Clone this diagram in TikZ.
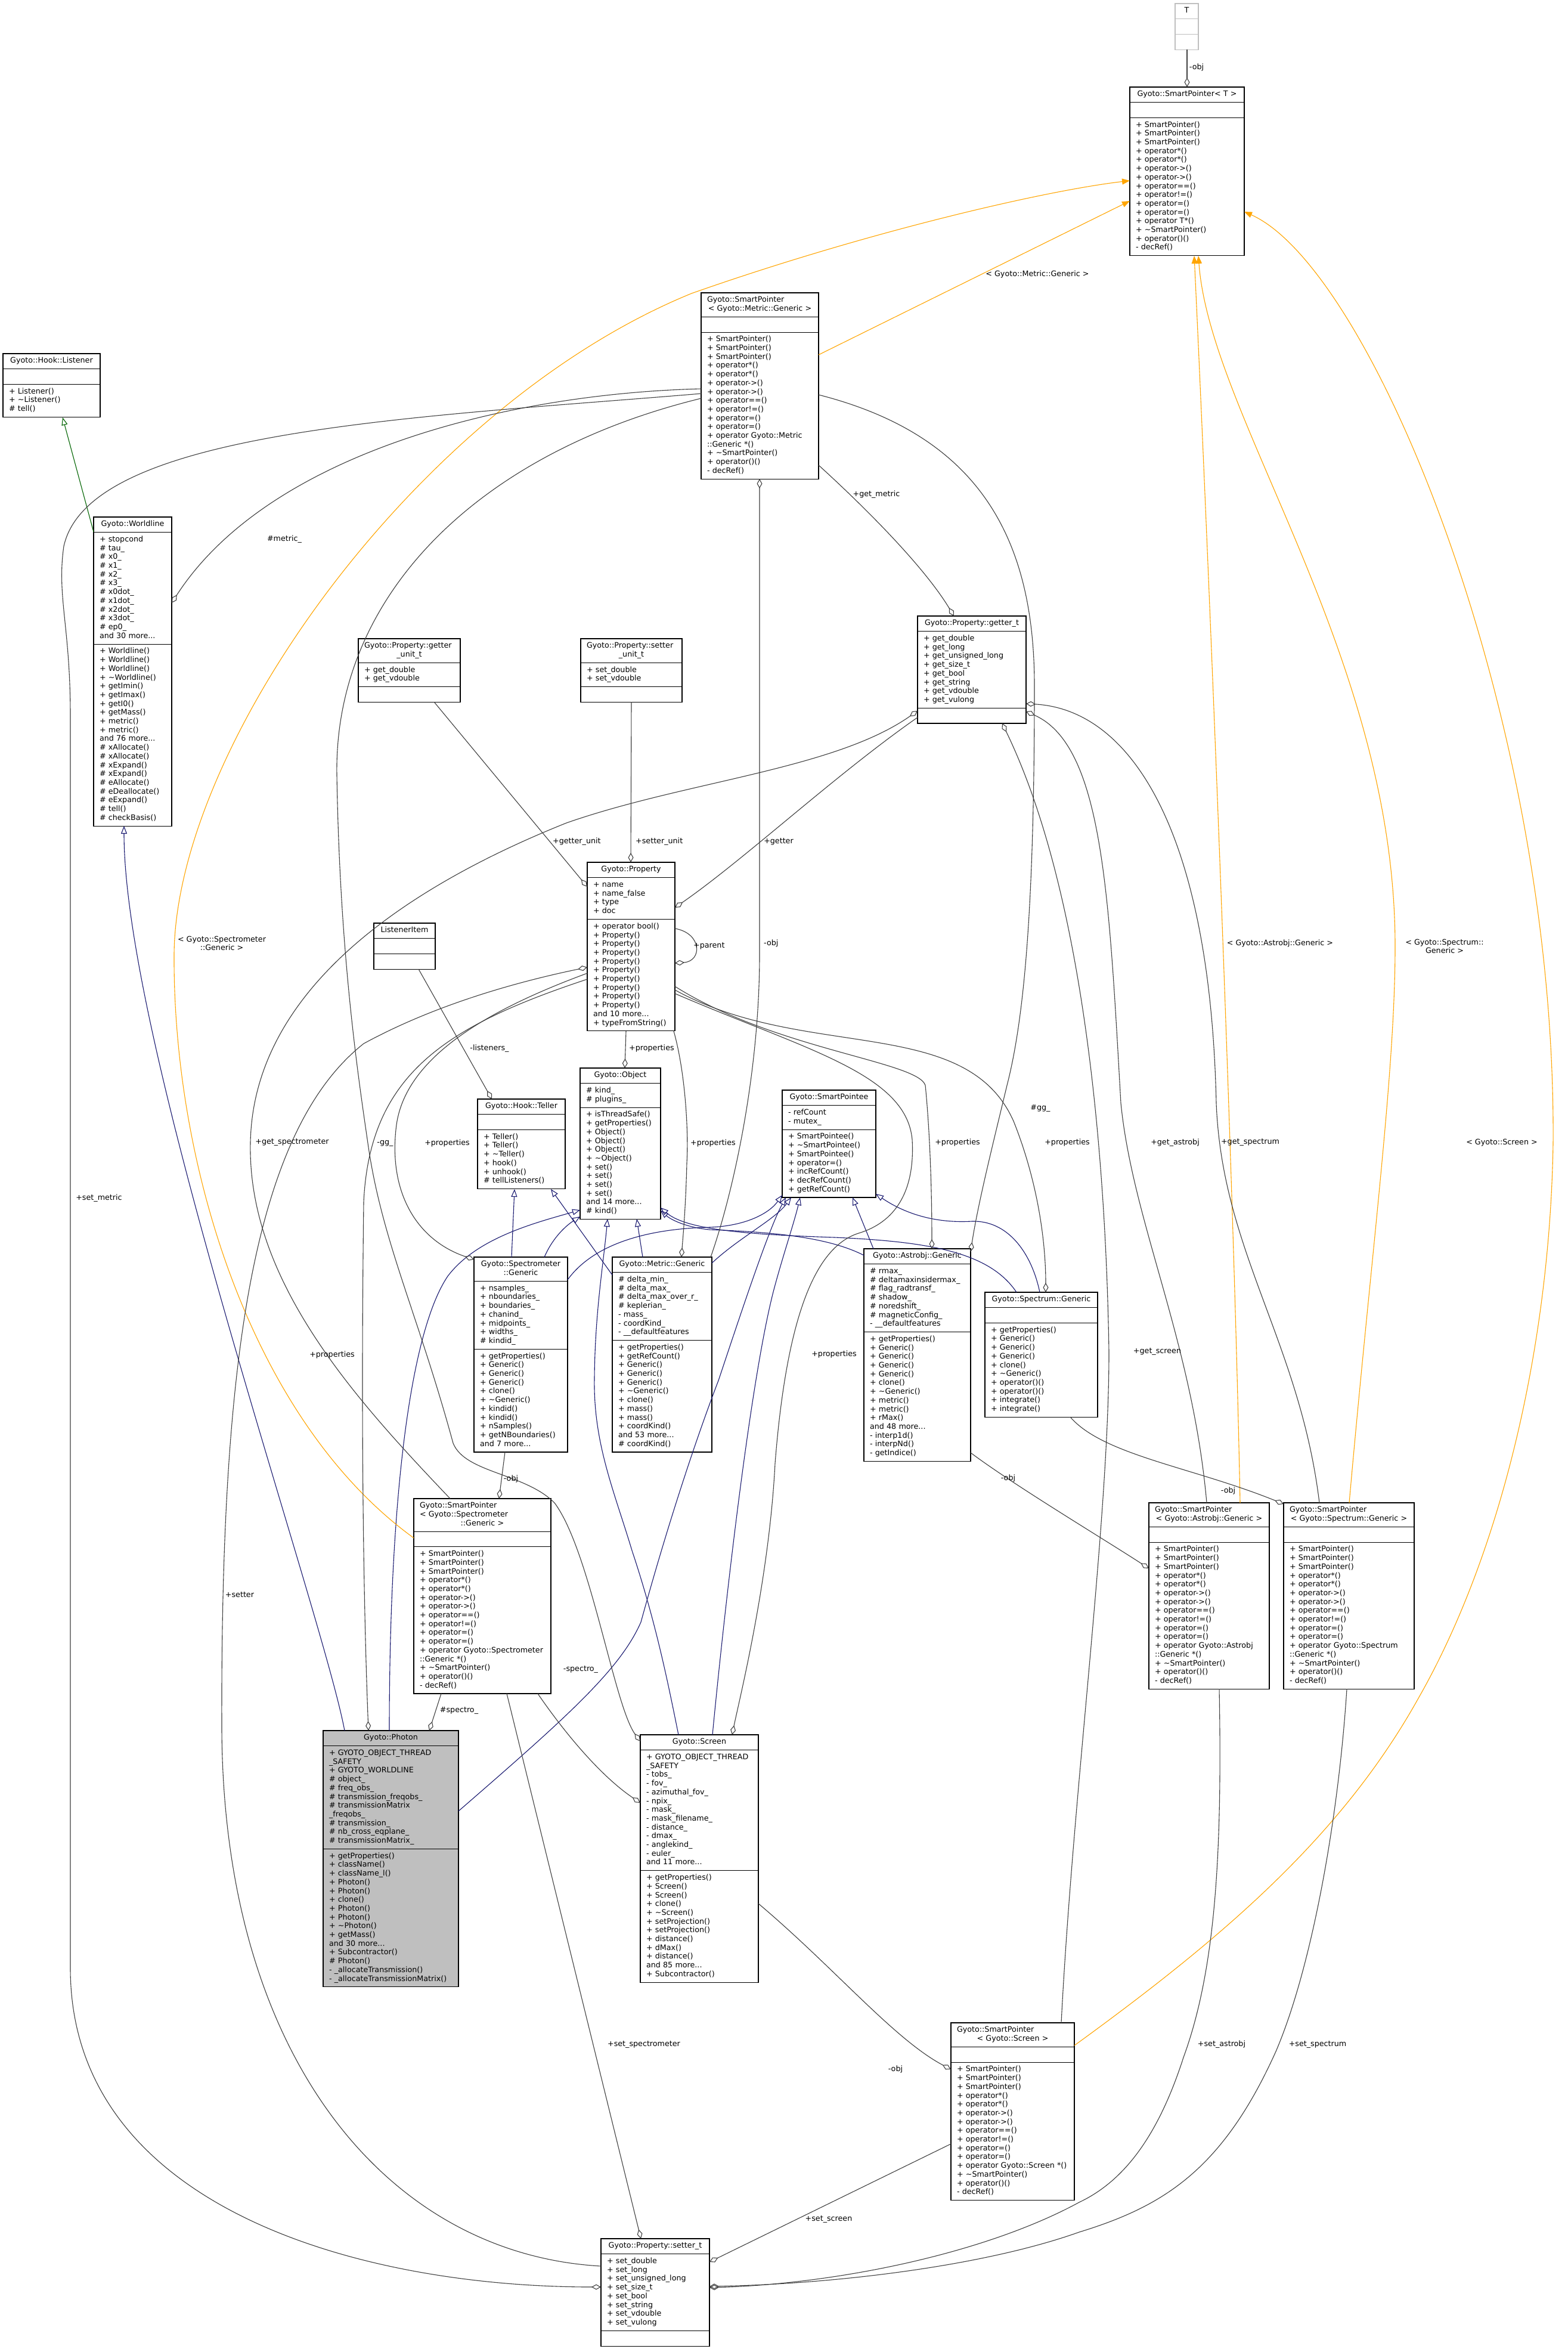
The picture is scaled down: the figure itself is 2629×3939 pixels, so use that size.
\documentclass[tikz,border=0pt]{standalone}
\usepackage{fontspec}
\setmainfont{DejaVu Sans}
\usetikzlibrary{arrows.meta,calc,fit}
\definecolor{navy}{HTML}{191970}
\definecolor{edgegrey}{HTML}{404040}
\definecolor{tmpl}{HTML}{FFA500}
\definecolor{inhgreen}{HTML}{006400}
\definecolor{phfill}{HTML}{BFBFBF}
\newcommand{\cfont}{\fontsize{12.7}{14.7}\selectfont}
\newcommand{\Ln}[1]{\makebox[\linewidth][l]{#1}}
\newcommand{\spA}{+~SmartPointer()\\+~SmartPointer()\\+~SmartPointer()\\+~operator*()\\+~operator*()\\+~operator->()\\+~operator->()\\+~operator==()\\+~operator!=()\\+~operator=()\\+~operator=()}
\newcommand{\spB}{+~\textasciitilde SmartPointer()\\+~operator()()\\-~decRef()}
\tikzset{
 sec/.style={draw=black,line width=1.1pt,fill=white,inner xsep=10pt,inner ysep=5.5pt,outer sep=0pt,font=\cfont,
   minimum height=25.7pt,execute at begin node=\strut,execute at end node=\strut},
 lbl/.style={font=\cfont,inner sep=1pt,align=center},
 inh/.style={draw=navy,line width=1.1pt,-{Triangle[open,length=13pt,width=10pt,line width=1.1pt]}},
 grn/.style={draw=inhgreen,line width=1.1pt,-{Triangle[open,length=13pt,width=10pt,line width=1.1pt]}},
 tpl/.style={draw=tmpl,line width=1.1pt,-{Triangle[length=13pt,width=10pt]}},
 use/.style={draw=edgegrey,line width=1.1pt,-{Diamond[open,length=16pt,width=9pt,line width=1.1pt]}},
}
\newcommand{\cbox}[8][]{%
 \pgfmathsetmacro{\cbw}{#5-20}%
 \node[sec,#1,text width=\cbw pt,align=center,anchor=north west] (#2-h) at (#3,#4) {\strut#6};
 \node[sec,#1,text width=\cbw pt,align=left,anchor=north west] (#2-a) at (#2-h.south west) {\strut#7};
 \node[sec,#1,text width=\cbw pt,align=left,anchor=north west] (#2-m) at (#2-a.south west) {\strut#8};
 \node[fit=(#2-h)(#2-a)(#2-m),inner sep=0pt,outer sep=0pt] (#2) {};
}
\begin{document}
\begin{tikzpicture}[x=1pt,y=-1pt]
\fill[white] (0,0) rectangle (2629,3939);
\useasboundingbox (0,0) rectangle (2629,3939);

% ---------- class boxes ----------
\cbox[draw=phfill]{t}{1971}{6}{39}{T}{}{}
\cbox{spt}{1895}{146}{192}{Gyoto::SmartPointer<~T~>}{}{\spA\\+~operator~T*()\\\spB}
\cbox{spm}{1176}{491}{197}{\Ln{Gyoto::SmartPointer}\\<~Gyoto::Metric::Generic~>}{}{\spA\\+~operator~Gyoto::Metric\\::Generic~*()\\\spB}
\cbox{lis}{5}{593}{163}{Gyoto::Hook::Listener}{}{+~Listener()\\+~\textasciitilde Listener()\\\#~tell()}
\cbox{wl}{157}{867}{131}{Gyoto::Worldline}{+~stopcond\\\#~tau\_\\\#~x0\_\\\#~x1\_\\\#~x2\_\\\#~x3\_\\\#~x0dot\_\\\#~x1dot\_\\\#~x2dot\_\\\#~x3dot\_\\\#~ep0\_\\and~30~more...}{+~Worldline()\\+~Worldline()\\+~Worldline()\\+~\textasciitilde Worldline()\\+~getImin()\\+~getImax()\\+~getI0()\\+~getMass()\\+~metric()\\+~metric()\\and~76~more...\\\#~xAllocate()\\\#~xAllocate()\\\#~xExpand()\\\#~xExpand()\\\#~eAllocate()\\\#~eDeallocate()\\\#~eExpand()\\\#~tell()\\\#~checkBasis()}
\cbox{gu}{601}{1071}{171}{\Ln{Gyoto::Property::getter}\\\_unit\_t}{+~get\_double\\+~get\_vdouble}{}
\cbox{su}{974}{1071}{170}{\Ln{Gyoto::Property::setter}\\\_unit\_t}{+~set\_double\\+~set\_vdouble}{}
\cbox{gt}{1539}{1033}{182}{Gyoto::Property::getter\_t}{+~get\_double\\+~get\_long\\+~get\_unsigned\_long\\+~get\_size\_t\\+~get\_bool\\+~get\_string\\+~get\_vdouble\\+~get\_vulong}{}
\cbox{pr}{985}{1446}{147}{Gyoto::Property}{+~name\\+~name\_false\\+~type\\+~doc}{+~operator~bool()\\+~Property()\\+~Property()\\+~Property()\\+~Property()\\+~Property()\\+~Property()\\+~Property()\\+~Property()\\+~Property()\\and~10~more...\\+~typeFromString()}
\cbox{li}{627}{1548}{103}{ListenerItem}{}{}
\cbox{te}{801}{1843}{147}{Gyoto::Hook::Teller}{}{+~Teller()\\+~Teller()\\+~\textasciitilde Teller()\\+~hook()\\+~unhook()\\\#~tellListeners()}
\cbox{ob}{973}{1791}{135}{Gyoto::Object}{\#~kind\_\\\#~plugins\_}{+~isThreadSafe()\\+~getProperties()\\+~Object()\\+~Object()\\+~Object()\\+~\textasciitilde Object()\\+~set()\\+~set()\\+~set()\\+~set()\\and~14~more...\\\#~kind()}
\cbox{spe}{1312}{1828}{157}{Gyoto::SmartPointee}{-~refCount\\-~mutex\_}{+~SmartPointee()\\+~\textasciitilde SmartPointee()\\+~SmartPointee()\\+~operator=()\\+~incRefCount()\\+~decRefCount()\\+~getRefCount()}
\cbox{sg}{795}{2108}{157}{Gyoto::Spectrometer\\::Generic}{+~nsamples\_\\+~nboundaries\_\\+~boundaries\_\\+~chanind\_\\+~midpoints\_\\+~widths\_\\\#~kindid\_}{+~getProperties()\\+~Generic()\\+~Generic()\\+~Generic()\\+~clone()\\+~\textasciitilde Generic()\\+~kindid()\\+~kindid()\\+~nSamples()\\+~getNBoundaries()\\and~7~more...}
\cbox{mg}{1027}{2108}{167}{Gyoto::Metric::Generic}{\#~delta\_min\_\\\#~delta\_max\_\\\#~delta\_max\_over\_r\_\\\#~keplerian\_\\-~mass\_\\-~coordKind\_\\-~\_\_defaultfeatures}{+~getProperties()\\+~getRefCount()\\+~Generic()\\+~Generic()\\+~Generic()\\+~\textasciitilde Generic()\\+~clone()\\+~mass()\\+~mass()\\+~coordKind()\\and~53~more...\\\#~coordKind()}
\cbox{ag}{1449}{2094}{179}{Gyoto::Astrobj::Generic}{\#~rmax\_\\\#~deltamaxinsidermax\_\\\#~flag\_radtransf\_\\\#~shadow\_\\\#~noredshift\_\\\#~magneticConfig\_\\-~\_\_defaultfeatures}{+~getProperties()\\+~Generic()\\+~Generic()\\+~Generic()\\+~Generic()\\+~clone()\\+~\textasciitilde Generic()\\+~metric()\\+~metric()\\+~rMax()\\and~48~more...\\-~interp1d()\\-~interpNd()\\-~getIndice()}
\cbox{spg}{1652}{2167}{189}{Gyoto::Spectrum::Generic}{}{+~getProperties()\\+~Generic()\\+~Generic()\\+~Generic()\\+~clone()\\+~\textasciitilde Generic()\\+~operator()()\\+~operator()()\\+~integrate()\\+~integrate()}
\cbox{sps}{694}{2513}{230}{\Ln{Gyoto::SmartPointer}\\\Ln{<~Gyoto::Spectrometer}\\::Generic~>}{}{\spA\\+~operator~Gyoto::Spectrometer\\::Generic~*()\\\spB}
\cbox{spa}{1927}{2520}{202}{\Ln{Gyoto::SmartPointer}\\<~Gyoto::Astrobj::Generic~>}{}{\spA\\+~operator~Gyoto::Astrobj\\::Generic~*()\\\spB}
\cbox{spsp}{2153}{2520}{219}{\Ln{Gyoto::SmartPointer}\\<~Gyoto::Spectrum::Generic~>}{}{\spA\\+~operator~Gyoto::Spectrum\\::Generic~*()\\\spB}
\cbox[fill=phfill]{ph}{542}{2902}{227}{Gyoto::Photon}{+~GYOTO\_OBJECT\_THREAD\\\_SAFETY\\+~GYOTO\_WORLDLINE\\\#~object\_\\\#~freq\_obs\_\\\#~transmission\_freqobs\_\\\#~transmissionMatrix\\\_freqobs\_\\\#~transmission\_\\\#~nb\_cross\_eqplane\_\\\#~transmissionMatrix\_}{+~getProperties()\\+~className()\\+~className\_l()\\+~Photon()\\+~Photon()\\+~clone()\\+~Photon()\\+~Photon()\\+~\textasciitilde Photon()\\+~getMass()\\and~30~more...\\+~Subcontractor()\\\#~Photon()\\-~\_allocateTransmission()\\-~\_allocateTransmissionMatrix()}
\cbox{sc}{1074}{2909}{198}{Gyoto::Screen}{+~GYOTO\_OBJECT\_THREAD\\\_SAFETY\\-~tobs\_\\-~fov\_\\-~azimuthal\_fov\_\\-~npix\_\\-~mask\_\\-~mask\_filename\_\\-~distance\_\\-~dmax\_\\-~anglekind\_\\-~euler\_\\and~11~more...}{+~getProperties()\\+~Screen()\\+~Screen()\\+~clone()\\+~\textasciitilde Screen()\\+~setProjection()\\+~setProjection()\\+~distance()\\+~dMax()\\+~distance()\\and~85~more...\\+~Subcontractor()}
\cbox{spc}{1595}{3392}{207}{\Ln{Gyoto::SmartPointer}\\<~Gyoto::Screen~>}{}{\spA\\+~operator~Gyoto::Screen~*()\\\spB}
\cbox{st}{1008}{3754}{182}{Gyoto::Property::setter\_t}{+~set\_double\\+~set\_long\\+~set\_unsigned\_long\\+~set\_size\_t\\+~set\_bool\\+~set\_string\\+~set\_vdouble\\+~set\_vulong}{}

% ---------- inheritance ----------
\draw[inh] ($(ph.north west)+(36,0)$) .. controls (540,2700) and (208,1750) .. ($(wl.north west)+(51,518)$);
\draw[inh] ($(ph.north west)+(111,0)$) .. controls (653,2500) and (690,2230) .. (751,2140) .. controls (800,2075) and (900,2050) .. ($(ob.north west)+(0,238)$);
\draw[inh] ($(ph.north west)+(227,135)$) .. controls (950,2880) and (1040,2800) .. (1075,2720) .. controls (1130,2520) and (1180,2380) .. (1205,2315) .. controls (1250,2180) and (1290,2060) .. ($(spe.north west)+(6,180)$);
\draw[inh] ($(sg.north west)+(63,0)$) -- ($(te.north west)+(62,151)$);
\draw[inh] ($(sg.north west)+(118,0)$) .. controls (925,2080) and (945,2058) .. ($(ob.north west)+(0,249)$);
\draw[inh] ($(sg.north west)+(157,38)$) .. controls (1000,2080) and (1100,2060) .. (1190,2058) .. controls (1250,2056) and (1290,2035) .. ($(spe.north west)+(0,176)$);
\draw[inh] ($(mg.north west)+(51,0)$) -- ($(ob.north west)+(95,253)$);
\draw[inh] ($(mg.north west)+(167,10)$) .. controls (1240,2075) and (1300,2045) .. ($(spe.north west)+(15,180)$);
\draw[inh] ($(mg.north west)+(0,30)$) -- ($(te.north west)+(123,151)$);
\draw[inh] ($(ag.north west)+(0,11)$) .. controls (1390,2075) and (1300,2066) .. (1190,2062) .. controls (1150,2058) and (1125,2045) .. ($(ob.north west)+(135,239)$);
\draw[inh] ($(spg.north west)+(53,0)$) .. controls (1660,2100) and (1560,2082) .. (1400,2075) .. controls (1250,2070) and (1150,2062) .. ($(ob.north west)+(135,234)$);
\draw[inh] ($(ag.north west)+(16,0)$) -- ($(spe.north west)+(118,180)$);
\draw[inh] ($(spg.north west)+(92,0)$) .. controls (1730,2100) and (1690,2046) .. (1630,2048) .. controls (1560,2052) and (1510,2030) .. ($(spe.north west)+(157,174)$);
\draw[inh] ($(sc.north west)+(64,0)$) .. controls (1120,2820) and (1100,2720) .. (1060,2600) .. controls (1030,2500) and (995,2420) .. (997,2311) .. controls (998,2200) and (1012,2120) .. ($(ob.north west)+(46,253)$);
\draw[inh] ($(sc.north west)+(121,0)$) .. controls (1215,2700) and (1260,2300) .. (1300,2155) .. controls (1315,2100) and (1332,2050) .. ($(spe.north west)+(30,180)$);
\draw[grn] ($(wl.north west)+(0,25)$) -- ($(lis.north west)+(100,107)$);

% ---------- template instances ----------
\draw[tpl] ($(spm.north west)+(197,104)$) -- ($(spt.north west)+(0,191)$);
\draw[tpl] ($(sps.north west)+(0,66)$) .. controls (420,2380) and (290,1950) .. (292,1600) .. controls (295,1250) and (700,680) .. (1160,492) .. controls (1450,390) and (1750,320) .. ($(spt.north west)+(0,157)$);
\draw[tpl] ($(spa.north west)+(153,0)$) .. controls (2070,2000) and (2030,1000) .. ($(spt.north west)+(108,283)$);
\draw[tpl] ($(spsp.north west)+(110,0)$) .. controls (2300,2100) and (2340,1800) .. (2340,1587) .. controls (2340,1100) and (2030,700) .. ($(spt.north west)+(115,283)$);
\draw[tpl] ($(spc.north west)+(207,38)$) .. controls (2050,3250) and (2250,3080) .. (2380,2846) .. controls (2520,2600) and (2600,2250) .. (2605,1916) .. controls (2610,1200) and (2300,450) .. ($(spt.north west)+(192,209)$);

% ---------- usage ----------
\draw[use] ($(t.north west)+(20,77)$) -- ($(spt.north west)+(96,0)$);
\draw[use] ($(spm.north west)+(0,161)$) .. controls (850,660) and (450,760) .. ($(wl.north west)+(131,144)$);
\draw[use] ($(spm.north west)+(197,289)$) .. controls (1450,850) and (1550,950) .. ($(gt.north west)+(61,0)$);
\draw[use] ($(spm.north west)+(0,169)$) .. controls (700,700) and (150,720) .. (107,916) .. controls (95,1000) and (118,1050) .. (118,1200) -- (118,3300) .. controls (118,3700) and (600,3835) .. ($(st.north west)+(0,81)$);
\draw[use] ($(spm.north west)+(0,177)$) .. controls (800,760) and (560,1000) .. (565,1300) .. controls (570,1600) and (600,1800) .. (617,1917) .. controls (640,2080) and (700,2200) .. (760,2420) .. controls (780,2470) and (880,2470) .. (930,2520) .. controls (990,2600) and (1030,2860) .. ($(sc.north west)+(0,11)$);
\draw[use] ($(spm.north west)+(197,171)$) .. controls (1640,730) and (1735,900) .. (1735,1150) .. controls (1735,1500) and (1720,1700) .. (1689,1820) .. controls (1665,1920) and (1640,2020) .. ($(ag.north west)+(179,5)$);
\draw[use] ($(mg.north west)+(165,0)$) .. controls (1230,2000) and (1274,1800) .. (1274,1600) -- ($(spm.north west)+(98,312)$);
\draw[use] ($(gt.north west)+(0,170)$) .. controls (1400,1300) and (1250,1440) .. ($(pr.north west)+(147,76)$);
\draw[use] ($(gu.north west)+(127,106)$) -- ($(pr.north west)+(0,41)$);
\draw[use] ($(su.north west)+(85,106)$) -- ($(pr.north west)+(73,0)$);
\draw[use] ($(st.north west)+(0,46)$) .. controls (650,3780) and (375,3450) .. (372,2900) .. controls (370,2300) and (420,1900) .. (610,1750) .. controls (720,1690) and (850,1650) .. ($(pr.north west)+(0,176)$);
\draw[use] ($(pr.north west)+(147,111)$) .. controls (1178,1565) and (1178,1612) .. ($(pr.north west)+(147,169)$);
\draw[use] ($(pr.north west)+(65,283)$) -- ($(ob.north west)+(75,0)$);
\draw[use] ($(pr.north west)+(0,186)$) .. controls (800,1700) and (680,1780) .. (665,1886) .. controls (650,2000) and (700,2080) .. ($(sg.north west)+(0,4)$);
\draw[use] ($(pr.north west)+(0,196)$) .. controls (750,1720) and (620,1800) .. (610,2016) .. controls (605,2400) and (610,2700) .. ($(ph.north west)+(76,0)$);
\draw[use] ($(pr.north west)+(145,283)$) .. controls (1150,1800) and (1155,1900) .. (1152,1950) .. controls (1150,2030) and (1145,2080) .. ($(mg.north west)+(116,0)$);
\draw[use] ($(pr.north west)+(147,208)$) .. controls (1300,1760) and (1540,1780) .. (1552,1820) .. controls (1560,1900) and (1563,2000) .. ($(ag.north west)+(114,0)$);
\draw[use] ($(pr.north west)+(147,214)$) .. controls (1350,1780) and (1620,1700) .. (1700,1880) .. controls (1740,1980) and (1754,2080) .. ($(spg.north west)+(102,0)$);
\draw[use] ($(pr.north west)+(147,220)$) .. controls (1350,1760) and (1520,1800) .. (1530,1911) .. controls (1535,2000) and (1500,2050) .. (1440,2068) .. controls (1370,2090) and (1320,2200) .. (1300,2454) .. controls (1290,2650) and (1240,2850) .. ($(sc.north west)+(154,0)$);
\draw[use] ($(li.north west)+(75,77)$) -- ($(te.north west)+(24,0)$);
\draw[use] ($(sg.north west)+(52,327)$) -- ($(sps.north west)+(143,0)$);
\draw[use] ($(ag.north west)+(179,342)$) .. controls (1700,2490) and (1850,2580) .. ($(spa.north west)+(0,110)$);
\draw[use] ($(spg.north west)+(143,209)$) .. controls (1850,2440) and (2000,2460) .. ($(spsp.north west)+(0,2)$);
\draw[use] ($(sc.north west)+(198,283)$) .. controls (1400,3300) and (1500,3420) .. ($(spc.north west)+(0,78)$);
\draw[use] ($(sps.north west)+(46,327)$) -- ($(ph.north west)+(178,0)$);
\draw[use] ($(sps.north west)+(208,327)$) .. controls (950,2910) and (1010,2980) .. ($(sc.north west)+(0,114)$);
\draw[use] ($(sps.north west)+(156,327)$) -- ($(st.north west)+(67,0)$);
\draw[use] ($(sps.north west)+(61,0)$) .. controls (600,2350) and (415,2150) .. (420,1916) .. controls (425,1650) and (700,1480) .. (950,1380) .. controls (1150,1310) and (1400,1290) .. ($(gt.north west)+(0,159)$);
\draw[use] ($(spa.north west)+(97,0)$) .. controls (2000,2250) and (1900,2050) .. (1880,1850) .. controls (1860,1500) and (1850,1250) .. ($(gt.north west)+(182,160)$);
\draw[use] ($(spsp.north west)+(60,0)$) .. controls (2180,2250) and (2050,2100) .. (2040,1850) .. controls (2030,1400) and (1900,1190) .. ($(gt.north west)+(182,147)$);
\draw[use] ($(spc.north west)+(185,0)$) .. controls (1800,3000) and (1860,2550) .. (1860,2267) .. controls (1855,1950) and (1820,1500) .. ($(gt.north west)+(142,180)$);
\draw[use] ($(spc.north west)+(0,203)$) -- ($(st.north west)+(182,39)$);
\draw[use] ($(spa.north west)+(118,312)$) .. controls (2050,3100) and (2040,3300) .. (1985,3450) .. controls (1940,3590) and (1880,3660) .. (1810,3693) .. controls (1650,3780) and (1400,3830) .. ($(st.north west)+(182,82)$);
\draw[use] ($(spsp.north west)+(106,312)$) .. controls (2245,3050) and (2200,3300) .. (2140,3440) .. controls (2050,3640) and (1950,3700) .. (1810,3743) .. controls (1650,3800) and (1400,3830) .. ($(st.north west)+(182,80)$);

% ---------- labels ----------
\node[lbl] at (2007,113) {-obj};
\node[lbl] at (1740,460) {<~Gyoto::Metric::Generic~>};
\node[lbl] at (1470,829) {+get\_metric};
\node[lbl] at (477,904) {\#metric\_};
\node[lbl] at (166,2009) {+set\_metric};
\node[lbl,anchor=west] at (926,1411) {+getter\_unit};
\node[lbl,anchor=west] at (1065,1411) {+setter\_unit};
\node[lbl] at (1306,1411) {+getter};
\node[lbl,anchor=west] at (1162,1586) {+parent};
\node[lbl,anchor=west] at (1280,1582) {-obj};
\node[lbl] at (372,1582) {<~Gyoto::Spectrometer\\::Generic~>};
\node[lbl] at (2147,1582) {<~Gyoto::Astrobj::Generic~>};
\node[lbl] at (2423,1587) {<~Gyoto::Spectrum::\\Generic~>};
\node[lbl] at (2519,1916) {<~Gyoto::Screen~>};
\node[lbl] at (821,1758) {-listeners\_};
\node[lbl,anchor=west] at (1054,1758) {+properties};
\node[lbl] at (490,1916) {+get\_spectrometer};
\node[lbl] at (646,1917) {-gg\_};
\node[lbl] at (750,1917) {+properties};
\node[lbl,anchor=west] at (1157,1917) {+properties};
\node[lbl] at (1606,1916) {+properties};
\node[lbl] at (1790,1916) {+properties};
\node[lbl] at (1745,1858) {\#gg\_};
\node[lbl] at (1971,1916) {+get\_astrobj};
\node[lbl] at (2097,1916) {+get\_spectrum};
\node[lbl] at (557,2272) {+properties};
\node[lbl] at (1399,2271) {+properties};
\node[lbl] at (1941,2267) {+get\_screen};
\node[lbl] at (857,2480) {-obj};
\node[lbl] at (1691,2479) {-obj};
\node[lbl] at (2060,2500) {-obj};
\node[lbl] at (770,2868) {\#spectro\_};
\node[lbl] at (974,2800) {-spectro\_};
\node[lbl] at (402,2674) {+setter};
\node[lbl] at (1080,3428) {+set\_spectrometer};
\node[lbl] at (2049,3428) {+set\_astrobj};
\node[lbl] at (2210,3428) {+set\_spectrum};
\node[lbl] at (1502,3470) {-obj};
\node[lbl] at (1390,3721) {+set\_screen};
\end{tikzpicture}
\end{document}
